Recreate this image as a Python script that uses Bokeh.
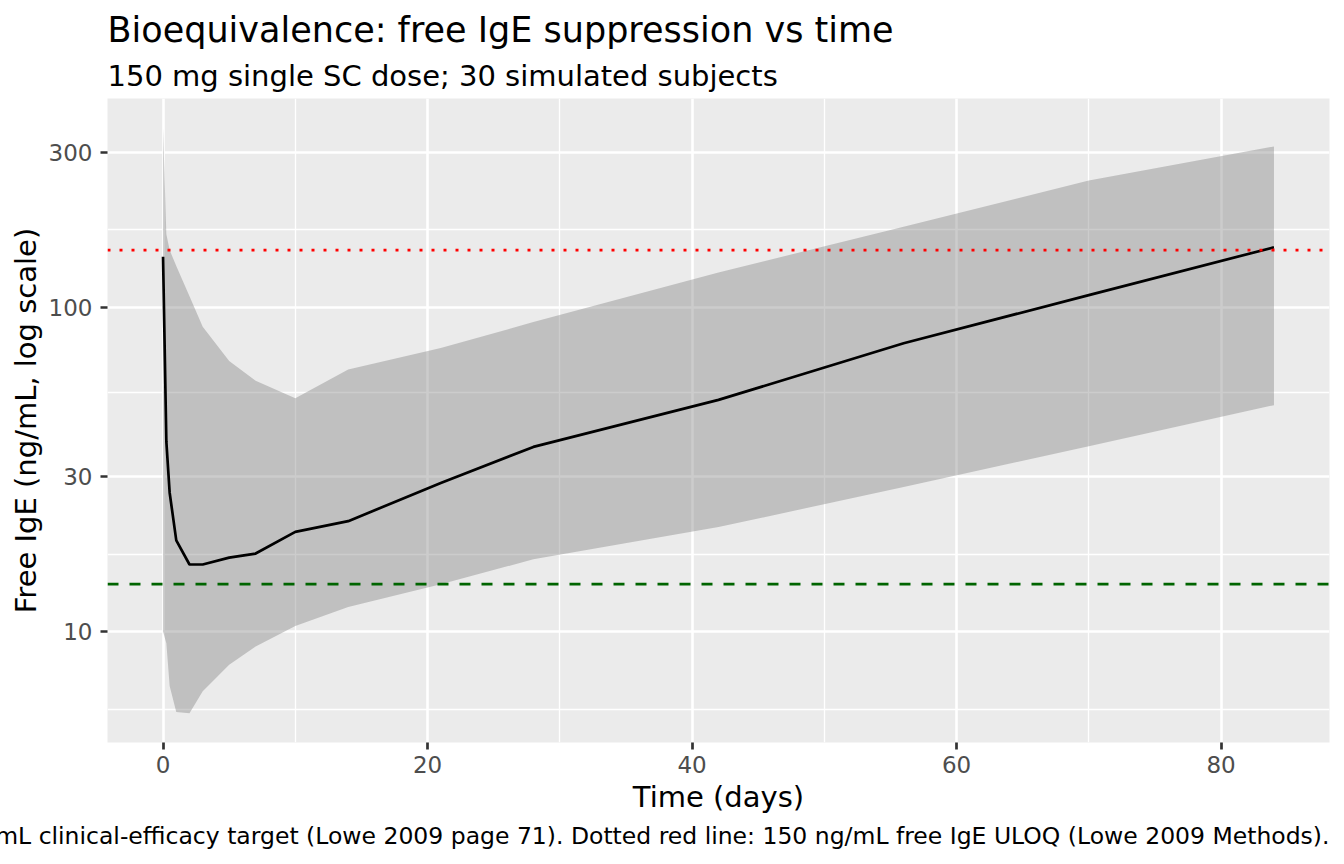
from bokeh.plotting import figure
from bokeh.models import Range1d, FixedTicker, Title, Span, ColumnDataSource, NumeralTickFormatter
from bokeh.embed import file_html
from bokeh.resources import INLINE

# ---- data ----
time_days = [0, 0.25, 0.5, 1, 2, 3, 5, 7, 10, 14, 21, 28, 42, 56, 70, 84]
median_ige = [143, 38.5, 26.8, 19.1, 16.1, 16.1, 16.9, 17.4, 20.3, 21.9, 28.7, 37.1, 51.8, 77.4, 109, 153]
upper_ige = [357, 168, 150, 134, 108, 87, 68.2, 59.3, 52.4, 64.3, 74.8, 90, 128, 177, 246, 313]
lower_ige = [10.0, 9.2, 6.8, 5.65, 5.6, 6.55, 7.9, 9.0, 10.4, 11.9, 14.0, 16.7, 21.0, 27.9, 37.3, 49.9]

x_ticks = [0, 20, 40, 60, 80]
x_minor_ticks = [10, 30, 50, 70]
y_ticks = [10, 30, 100, 300]
y_minor_ticks = [5.77, 17.32, 54.77, 173.2]

efficacy_target = 14
uloq = 150

title_text = "Bioequivalence: free IgE suppression vs time"
subtitle_text = "150 mg single SC dose; 30 simulated subjects"
caption_text = ("Dashed green line: 14 ng/mL clinical-efficacy target (Lowe 2009 page 71). "
                "Dotted red line: 150 ng/mL free IgE ULOQ (Lowe 2009 Methods).")
x_label = "Time (days)"
y_label = "Free IgE (ng/mL, log scale)"

FONT = "DejaVu Sans"

src = ColumnDataSource(dict(t=time_days, med=median_ige, lo=lower_ige, hi=upper_ige))

p = figure(width=1344, height=864, y_axis_type="log", output_backend="svg",
           toolbar_location=None, title=None,
           x_range=Range1d(-4.2, 88.2), y_range=Range1d(4.55, 440),
           min_border_left=107, min_border_right=15, min_border_top=98, min_border_bottom=122)

p.background_fill_color = "#EBEBEB"
p.border_fill_color = "white"
p.outline_line_color = None

# grid
p.xaxis.ticker = FixedTicker(ticks=x_ticks, minor_ticks=x_minor_ticks)
p.yaxis.ticker = FixedTicker(ticks=y_ticks, minor_ticks=y_minor_ticks)
p.yaxis.formatter = NumeralTickFormatter(format="0")
for g in (p.xgrid, p.ygrid):
    g.grid_line_color = "white"
    g.grid_line_width = 2.6
    g.minor_grid_line_color = "white"
    g.minor_grid_line_width = 1.3

# axes
for ax in (p.xaxis, p.yaxis):
    ax.axis_line_color = None
    ax.major_tick_line_color = "#333333"
    ax.major_tick_line_width = 2.7
    ax.major_tick_out = 7
    ax.major_tick_in = 0
    ax.minor_tick_line_color = None
    ax.major_label_text_font = FONT
    ax.major_label_text_font_size = "23px"
    ax.major_label_text_color = "#4D4D4D"
    ax.axis_label_text_font = FONT
    ax.axis_label_text_font_size = "29px"
    ax.axis_label_text_font_style = "normal"
    ax.axis_label_text_color = "black"
p.xaxis.axis_label = x_label
p.yaxis.axis_label = y_label
p.xaxis.major_label_standoff = 6
p.yaxis.major_label_standoff = 8
p.xaxis.axis_label_standoff = 4
p.yaxis.axis_label_standoff = 3

# glyphs
p.varea(x="t", y1="lo", y2="hi", source=src, fill_color="#808080", fill_alpha=0.4)
p.line(x="t", y="med", source=src, line_color="black", line_width=2.7)

p.add_layout(Span(location=efficacy_target, dimension="width", line_color="#006400",
                  line_width=2.8, line_dash="11 11"))
p.add_layout(Span(location=uloq, dimension="width", line_color="red",
                  line_width=2.8, line_dash="3 9"))

# titles (first added sits nearest the plot area)
p.add_layout(Title(text=subtitle_text, align="left", text_font=FONT, text_font_size="29px",
                   text_font_style="normal", text_color="black", standoff=12,
                   text_line_height=0.9), "above")
p.add_layout(Title(text=title_text, align="left", text_font=FONT, text_font_size="35px",
                   text_font_style="normal", text_color="black", standoff=1,
                   text_line_height=0.8), "above")
p.add_layout(Title(text=caption_text, align="right", text_font=FONT, text_font_size="23.5px",
                   text_font_style="normal", text_color="black", standoff=6), "below")

open("out.html", "w").write(file_html(p, INLINE))
